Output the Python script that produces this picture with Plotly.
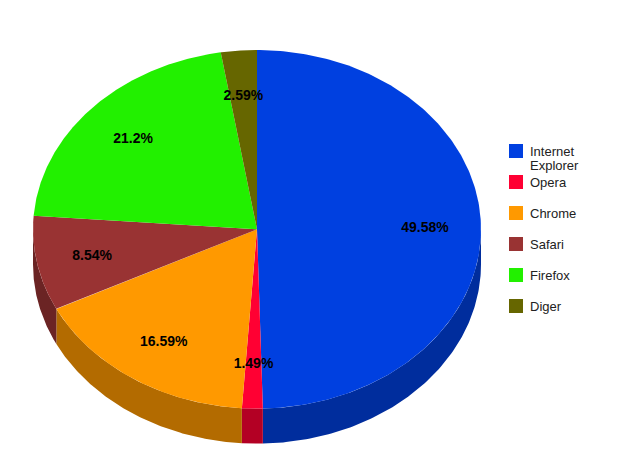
import numpy as np
import plotly.graph_objects as go

categories = ["Internet<br>Explorer", "Opera", "Chrome", "Safari", "Firefox", "Diger"]
values = [49.58, 1.49, 16.59, 8.54, 21.2, 2.59]
labels = ["49.58%", "1.49%", "16.59%", "8.54%", "21.2%", "2.59%"]
top_colors = ["#0040E0", "#FF0033", "#FF9900", "#993333", "#22F000", "#666600"]
wall_colors = ["#002D9D", "#B30024", "#B36B00", "#6B2424", "#18A800", "#474700"]

CX, CY, RX, RY, DEPTH = 257.0, 229.3, 224.0, 179.3, 35.0
W, H = 640, 463
PAGE_MARGIN = 8  # the page body offsets the plot by this many pixels


def ellipse(a, dy=0.0):
    return CX + RX * np.sin(a), CY - RY * np.cos(a) + dy


fig = go.Figure()
edges = np.cumsum([0.0] + values) / sum(values) * 2 * np.pi

# side walls: only the front half of the rim is visible
for i in range(len(values)):
    a0, a1 = max(edges[i], np.pi / 2), min(edges[i + 1], 3 * np.pi / 2)
    if a1 <= a0:
        continue
    a = np.linspace(a0, a1, 120)
    x0, y0 = ellipse(a)
    x1, y1 = ellipse(a[::-1], DEPTH)
    fig.add_trace(go.Scatter(x=np.r_[x0, x1], y=np.r_[y0, y1], mode="lines", fill="toself",
                             fillcolor=wall_colors[i], line=dict(width=0), hoverinfo="skip"))

# top faces
for i in range(len(values)):
    a = np.linspace(edges[i], edges[i + 1], 240)
    x, y = ellipse(a)
    fig.add_trace(go.Scatter(x=np.r_[CX, x, CX], y=np.r_[CY, y, CY], mode="lines", fill="toself",
                             fillcolor=top_colors[i], line=dict(width=0), hoverinfo="skip"))

# value labels
mid = (edges[:-1] + edges[1:]) / 2
lx = CX + 0.75 * RX * np.sin(mid)
ly = CY - 0.75 * RY * np.cos(mid) + 1
fig.add_trace(go.Scatter(x=lx, y=ly, mode="text", text=["<b>%s</b>" % t for t in labels],
                         textposition="middle center", hoverinfo="skip",
                         textfont=dict(family="Liberation Sans, Arial", size=14, color="#000000")))

# legend
LEG_X, LEG_Y, LEG_STEP = 516, 151, 31
for i, c in enumerate(categories):
    y = LEG_Y + i * LEG_STEP
    fig.add_shape(type="rect", x0=LEG_X - 7, x1=LEG_X + 7, y0=y - 7, y1=y + 7,
                  fillcolor=top_colors[i], line=dict(width=0), layer="above")
    for j, part in enumerate(c.split("<br>")):
        fig.add_annotation(x=530, y=y + j * 14, yanchor="middle", text=part,
                           xanchor="left", align="left", showarrow=False, borderpad=0, borderwidth=0,
                           font=dict(family="Liberation Sans, Arial", size=13, color="#222222"))

fig.update_layout(width=W - PAGE_MARGIN, height=H - PAGE_MARGIN, margin=dict(l=0, r=0, t=0, b=0),
                  showlegend=False, paper_bgcolor="#FFFFFF", plot_bgcolor="#FFFFFF",
                  xaxis=dict(range=[PAGE_MARGIN, W], visible=False, fixedrange=True),
                  yaxis=dict(range=[H, PAGE_MARGIN], visible=False, fixedrange=True))
fig.write_html("out.html", config=dict(displayModeBar=False))
